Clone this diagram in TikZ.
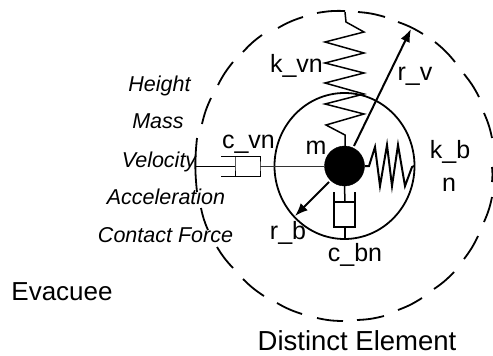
\documentclass[tikz,border=0pt]{standalone}
\usepackage{fontspec}
\setmainfont{Liberation Sans}
\usetikzlibrary{arrows.meta}
\tikzset{
  lbl/.style={anchor=base,inner sep=0pt,font=\fontsize{25}{25}\selectfont,text=black},
  ilbl/.style={anchor=base,inner sep=0pt,font=\fontsize{21.5}{22}\selectfont\itshape,text=black},
  dashseg/.style={line width=1.8pt,bend left=6},
  mech/.style={line width=1.5pt,line join=miter},
  thin mech/.style={line width=1pt},
  rad/.style={line width=2pt,-{Latex[length=13pt,width=10pt]}}
}
\begin{document}
\begin{tikzpicture}[x=1pt,y=-1pt]
\useasboundingbox (0,0) rectangle (493,356);
% outer dashed circle
\foreach \xa/\ya/\xb/\yb in {
 317/13/345/11, 358/12/385/17, 398/22/423/34, 435/42/455/62, 464/74/479/97, 484/113/492/138,
 492/167/492/182, 492/197/484/222, 478/236/464/259, 454/272/434/289, 422/298/398/310,
 384/316/357/320, 343/321/317/318, 302/314/277/303, 264/296/243/279, 233/268/217/247,
 208/230/201/208, 197/192/197/138, 202/124/211/98, 218/85/233/62, 243/52/262/35, 278/28/303/17}
 \draw[dashseg] (\xa,\ya) to (\xb,\yb);
% inner circle and ball
\coordinate (c) at (344.5,166);
\draw[line width=1.8pt] (c) ellipse [x radius=70,y radius=73];
\node[circle,fill=black,draw=black,minimum size=40pt,inner sep=0pt] (ball) at (c) {};
% top spring
\coordinate (ktop) at (345,12);
\coordinate (kbot) at (345,146);
\draw[mech] (ktop) -- (346,22) -- (364,32) -- (325,42) -- (364,53) -- (325,63) -- (364,73) -- (325,83)
  -- (364,94) -- (325,104) -- (364,114) -- (326,125) -- (345,135) -- (kbot);
% right spring
\coordinate (sstart) at (ball.east);
\coordinate (send) at (414,166);
\draw[line width=2pt] (sstart) -- (369,166) -- (375,147) -- (380,186) -- (387,145) -- (392,186) -- (398,145)
  -- (405,186) -- (412,167) -- (send);
% left damper
\coordinate (dl) at (196,166);
\coordinate (dp) at (235,166);
\coordinate (dr) at (260,166);
\draw[thin mech] (dl) -- (dp);
\draw[thin mech] (235,156) -- (dp) -- (235,176);
\draw[thin mech] (221,156) -- (260,156) -- (dr) -- (260,176) -- (221,176);
\draw[line width=0.8pt,black!80] (dr) -- (ball.west);
% bottom damper
\coordinate (bt) at (345,202);
\coordinate (bb) at (345,227);
\coordinate (bc) at (345,239);
\draw[mech] (ball.south) -- (bt);
\draw[mech] (334,202) -- (355,202);
\draw[mech] (334,192) -- (334,227) -- (355,227) -- (355,192);
\draw[mech] (bb) -- (bc);
% radius arrows
\coordinate (rv) at (411,29);
\coordinate (rb) at (295,216);
\draw[rad] (354,146) -- (rv);
\draw[rad] (329,182) -- (rb);
% labels
\node[lbl] (kvn) at (296.5,72) {k\_vn};
\node[lbl] (rvl) at (415,80) {r\_v};
\node[lbl] (ml) at (316,154) {m};
\node[lbl] (cvn) at (248.5,148) {c\_vn};
\node[lbl] (kb) at (450,158) {k\_b};
\node[lbl] (nl) at (449,191) {n};
\node[lbl] (rbl) at (288,239) {r\_b};
\node[lbl] (cbn) at (355,261) {c\_bn};
\node[lbl,font=\fontsize{27.5}{27.5}\selectfont] (de) at (357,350) {Distinct Element};
\node[lbl,font=\fontsize{26}{26}\selectfont] (ev) at (62,300) {Evacuee};
\node[ilbl] (h) at (159.5,91) {Height};
\node[ilbl] (ma) at (158,128) {Mass};
\node[ilbl] (ve) at (159,167) {Velocity};
\node[ilbl] (ac) at (166,204) {Acceleration};
\node[ilbl] (cf) at (165.5,242) {Contact Force};
\end{tikzpicture}
\end{document}
